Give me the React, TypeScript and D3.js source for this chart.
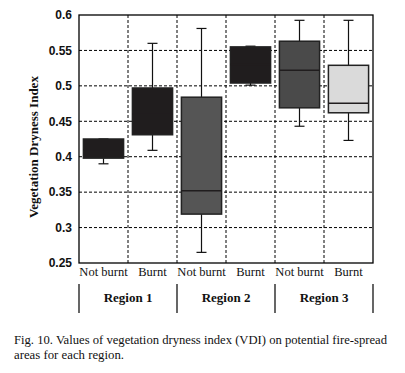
import React from 'react';
import * as d3 from 'd3';

const groups = ['Not burnt', 'Burnt', 'Not burnt', 'Burnt', 'Not burnt', 'Burnt'];
const regions = ['Region 1', 'Region 2', 'Region 3'];
const mins = [0.39, 0.409, 0.265, 0.501, 0.443, 0.423];
const q1s = [0.398, 0.431, 0.319, 0.504, 0.469, 0.462];
const medians = [0.41, 0.46, 0.352, 0.53, 0.522, 0.4755];
const q3s = [0.425, 0.497, 0.484, 0.555, 0.563, 0.529];
const maxs = [0.425, 0.56, 0.581, 0.556, 0.5925, 0.5925];
const yTicks = [0.25, 0.3, 0.35, 0.4, 0.45, 0.5, 0.55, 0.6];

const fills = ['#201d1e', '#201d1e', '#555555', '#201d1e', '#4a4a4a', '#dadada'];

const W = 405;
const H = 373;
const margin = { top: 15, right: 32, left: 79, bottom: 110 };
const serif = "'Liberation Serif', 'Times New Roman', serif";

export default function App() {
  const x = d3
    .scaleBand<number>()
    .domain(d3.range(groups.length))
    .range([margin.left, W - margin.right])
    .paddingInner(0.18)
    .paddingOuter(0.09);
  const y = d3.scaleLinear().domain([0.25, 0.6]).range([H - margin.bottom, margin.top]);
  const step = x.step();
  const left = margin.left;
  const right = W - margin.right;
  const top = y(0.6);
  const bottom = y(0.25);
  const bounds = d3.range(groups.length + 1).map((i) => left + i * step);
  const capW = 10;
  const dash = '3,2';

  return (
    <svg
      width={W}
      height={H}
      style={{ position: 'absolute', left: 0, top: 0, background: '#fff' }}
    >
      <rect x={0} y={0} width={W} height={H} fill="#fff" />
      {/* grid */}
      {yTicks.slice(1, -1).map((t) => (
        <line key={t} x1={left} x2={right} y1={y(t)} y2={y(t)} stroke="#000" strokeWidth={1} strokeDasharray={dash} />
      ))}
      {bounds.slice(1, -1).map((b, i) => (
        <line key={i} x1={b} x2={b} y1={top} y2={bottom} stroke="#000" strokeWidth={1} strokeDasharray={dash} />
      ))}
      {/* boxes */}
      {groups.map((g, i) => {
        const bx = x(i)!;
        const bw = x.bandwidth();
        const cx = bx + bw / 2;
        return (
          <g key={i}>
            <line x1={cx} x2={cx} y1={y(maxs[i])} y2={y(q3s[i])} stroke="#111" strokeWidth={1.2} />
            <line x1={cx} x2={cx} y1={y(q1s[i])} y2={y(mins[i])} stroke="#111" strokeWidth={1.2} />
            <line x1={cx - capW / 2} x2={cx + capW / 2} y1={y(maxs[i])} y2={y(maxs[i])} stroke="#111" strokeWidth={1.2} />
            <line x1={cx - capW / 2} x2={cx + capW / 2} y1={y(mins[i])} y2={y(mins[i])} stroke="#111" strokeWidth={1.2} />
            <rect
              x={bx}
              y={y(q3s[i])}
              width={bw}
              height={y(q1s[i]) - y(q3s[i])}
              fill={fills[i]}
              stroke="#222"
              strokeWidth={1.5}
            />
            <line x1={bx} x2={bx + bw} y1={y(medians[i])} y2={y(medians[i])} stroke="#201d1e" strokeWidth={1.5} />
          </g>
        );
      })}
      {/* frame */}
      <rect x={left} y={top} width={right - left} height={bottom - top} fill="none" stroke="#000" strokeWidth={1.3} />
      {/* y ticks */}
      {yTicks.map((t) => (
        <text
          key={t}
          x={left - 7}
          y={y(t)}
          dy="0.36em"
          textAnchor="end"
          fontFamily="'Liberation Sans', Arial, sans-serif"
          fontWeight="bold"
          fontSize={12}
          fill="#111"
        >
          {String(t)}
        </text>
      ))}
      <text
        transform={`translate(33,147) rotate(-90)`}
        textAnchor="middle"
        dy="0.35em"
        fontFamily={serif}
        fontWeight="bold"
        fontSize={13}
        fill="#111"
      >
        Vegetation Dryness Index
      </text>
      {/* category labels */}
      {groups.map((g, i) => (
        <text
          key={i}
          x={x(i)! + x.bandwidth() / 2}
          y={bottom + 13}
          textAnchor="middle"
          fontFamily={serif}
          fontSize={12.5}
          fill="#111"
        >
          {g}
        </text>
      ))}
      {/* region separators and labels */}
      {d3.range(regions.length + 1).map((k) => (
        <line key={k} x1={left + k * 2 * step} x2={left + k * 2 * step} y1={284} y2={313} stroke="#000" strokeWidth={1.2} />
      ))}
      {regions.map((r, k) => (
        <text
          key={r}
          x={left + (k * 2 + 1) * step}
          y={297}
          dy="0.35em"
          textAnchor="middle"
          fontFamily={serif}
          fontWeight="bold"
          fontSize={13}
          fill="#111"
        >
          {r}
        </text>
      ))}
      {/* caption */}
      <text x={14} y={344} fontFamily={serif} fontSize={11.5} fill="#111" textLength={373} lengthAdjust="spacingAndGlyphs">
        Fig. 10. Values of vegetation dryness index (VDI) on potential fire-spread
      </text>
      <text x={14} y={358.5} fontFamily={serif} fontSize={11.5} fill="#111" textLength={110} lengthAdjust="spacingAndGlyphs">
        areas for each region.
      </text>
    </svg>
  );
}
